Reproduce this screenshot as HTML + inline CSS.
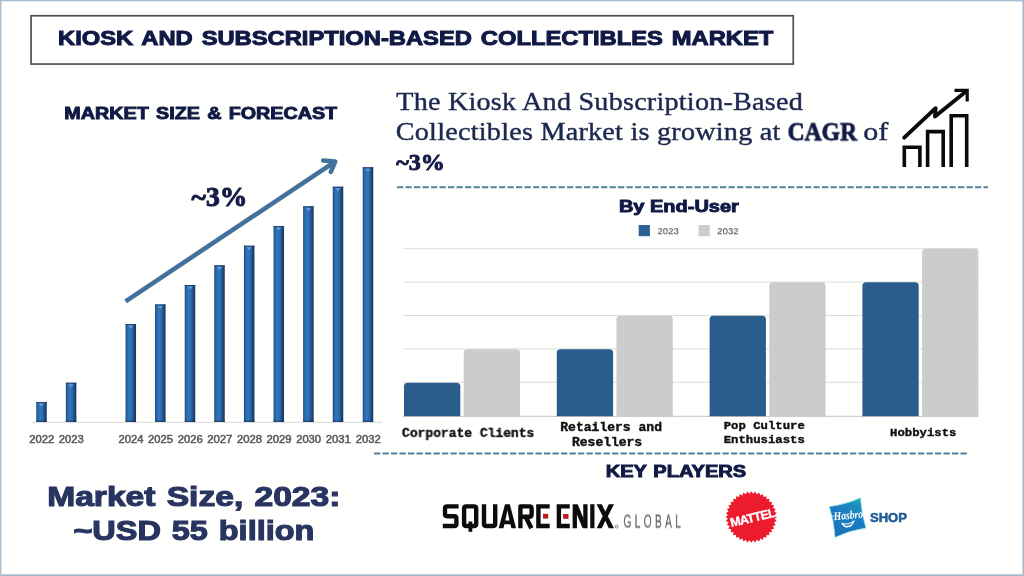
<!DOCTYPE html>
<html><head><meta charset="utf-8"><title>Kiosk and Subscription-Based Collectibles Market</title>
<style>
html,body{margin:0;padding:0;}
body{width:1024px;height:576px;overflow:hidden;background:#fffffe;font-family:"Liberation Sans",sans-serif;position:relative;}
.t{position:absolute;white-space:pre;transform-origin:0 0;line-height:1;will-change:transform;}
.abs{position:absolute;}
.hv{font-family:"Liberation Sans",sans-serif;font-weight:bold;color:#101a45;-webkit-text-stroke:0.7px #101a45;}
.sf{font-family:"Liberation Serif",serif;color:#1c2a52;}
.mono{font-family:"Liberation Mono",monospace;font-weight:bold;color:#111;}
.yr{font-family:"Liberation Sans",sans-serif;font-size:10.5px;color:#595959;-webkit-text-stroke:0.4px #595959;}
</style></head><body>
<svg class="abs" style="left:0;top:0" width="1024" height="576" viewBox="0 0 1024 576"><rect x="0" y="0" width="1024" height="1.9" fill="#d6e5f1"/><rect x="0" y="0" width="1.9" height="576" fill="#d6e5f1"/><rect x="1022" y="0" width="2" height="576" fill="#d6e5f1"/><rect x="0" y="573.8" width="1024" height="2.2" fill="#d6e5f1"/><rect x="0" y="0" width="1024" height="0.85" fill="#a6bac9"/><rect x="0" y="0" width="0.95" height="576" fill="#a6bac9"/><rect x="1022.7" y="0" width="1.3" height="576" fill="#a6bac9"/><rect x="0" y="574.5" width="1024" height="1.5" fill="#a6bac9"/></svg>
<svg class="abs" style="left:0;top:0" width="1024" height="80" viewBox="0 0 1024 80"><rect x="31.05" y="15.75" width="762.2" height="48.3" fill="#ffffff" stroke="#4e5058" stroke-width="1.7"/></svg>
<div class="t" style="left:58px;top:28px;font-family:'Liberation Sans',sans-serif;font-weight:bold;font-size:20.0px;color:#101a45;-webkit-text-stroke:1.0px #101a45;word-spacing:2.0px;transform:translate(0.05px,0.45px) scaleX(1.1864);">KIOSK AND SUBSCRIPTION-BASED COLLECTIBLES MARKET</div>
<div class="t" style="left:64px;top:104px;font-family:'Liberation Sans',sans-serif;font-weight:bold;font-size:16.1px;color:#101a45;-webkit-text-stroke:0.9px #101a45;word-spacing:1.5px;transform:translate(0.37px,0.97px) scaleX(1.2250);">MARKET SIZE &amp; FORECAST</div>
<svg class="abs" style="left:0;top:0" width="1024" height="576" viewBox="0 0 1024 576">
<defs>
<linearGradient id="bg" x1="0" x2="1" y1="0" y2="0">
<stop offset="0" stop-color="#1a3d6b"/><stop offset="0.13" stop-color="#2a65a6"/><stop offset="0.4" stop-color="#3277bd"/><stop offset="0.62" stop-color="#2a67a8"/><stop offset="0.84" stop-color="#1d4779"/><stop offset="1" stop-color="#15325a"/>
</linearGradient>
<linearGradient id="bb" x1="0" x2="0" y1="0" y2="1"><stop offset="0" stop-color="#0f2748" stop-opacity="0"/><stop offset="1" stop-color="#0f2748" stop-opacity="0.55"/></linearGradient>
</defs>
<line x1="32" y1="422.3" x2="382" y2="422.3" stroke="#d9d9d9" stroke-width="1"/>
<rect x="36.25" y="402" width="10.5" height="20.0" fill="url(#bg)"/>
<rect x="36.25" y="402" width="10.5" height="1" fill="#1a3a66" opacity="0.75"/>
<rect x="36.25" y="419.4" width="10.5" height="2.6" fill="url(#bb)"/>
<path d="M38.9 403.6 L44.1 403.6 L41.5 406.6 Z" fill="#6fa0d8" opacity="0.9"/>
<rect x="65.85" y="382.7" width="10.5" height="39.3" fill="url(#bg)"/>
<rect x="65.85" y="382.7" width="10.5" height="1" fill="#1a3a66" opacity="0.75"/>
<rect x="65.85" y="419.4" width="10.5" height="2.6" fill="url(#bb)"/>
<path d="M68.5 384.3 L73.7 384.3 L71.1 387.3 Z" fill="#6fa0d8" opacity="0.9"/>
<rect x="125.55" y="324" width="10.5" height="98.0" fill="url(#bg)"/>
<rect x="125.55" y="324" width="10.5" height="1" fill="#1a3a66" opacity="0.75"/>
<rect x="125.55" y="419.4" width="10.5" height="2.6" fill="url(#bb)"/>
<path d="M128.2 325.6 L133.4 325.6 L130.8 328.6 Z" fill="#6fa0d8" opacity="0.9"/>
<rect x="155.05" y="304.4" width="10.5" height="117.6" fill="url(#bg)"/>
<rect x="155.05" y="304.4" width="10.5" height="1" fill="#1a3a66" opacity="0.75"/>
<rect x="155.05" y="419.4" width="10.5" height="2.6" fill="url(#bb)"/>
<path d="M157.7 306.0 L162.9 306.0 L160.3 309.0 Z" fill="#6fa0d8" opacity="0.9"/>
<rect x="184.75" y="285" width="10.5" height="137.0" fill="url(#bg)"/>
<rect x="184.75" y="285" width="10.5" height="1" fill="#1a3a66" opacity="0.75"/>
<rect x="184.75" y="419.4" width="10.5" height="2.6" fill="url(#bb)"/>
<path d="M187.4 286.6 L192.6 286.6 L190.0 289.6 Z" fill="#6fa0d8" opacity="0.9"/>
<rect x="214.25" y="265.3" width="10.5" height="156.7" fill="url(#bg)"/>
<rect x="214.25" y="265.3" width="10.5" height="1" fill="#1a3a66" opacity="0.75"/>
<rect x="214.25" y="419.4" width="10.5" height="2.6" fill="url(#bb)"/>
<path d="M216.9 266.90000000000003 L222.1 266.90000000000003 L219.5 269.90000000000003 Z" fill="#6fa0d8" opacity="0.9"/>
<rect x="243.95" y="245.7" width="10.5" height="176.3" fill="url(#bg)"/>
<rect x="243.95" y="245.7" width="10.5" height="1" fill="#1a3a66" opacity="0.75"/>
<rect x="243.95" y="419.4" width="10.5" height="2.6" fill="url(#bb)"/>
<path d="M246.6 247.29999999999998 L251.8 247.29999999999998 L249.2 250.29999999999998 Z" fill="#6fa0d8" opacity="0.9"/>
<rect x="273.55" y="226" width="10.5" height="196.0" fill="url(#bg)"/>
<rect x="273.55" y="226" width="10.5" height="1" fill="#1a3a66" opacity="0.75"/>
<rect x="273.55" y="419.4" width="10.5" height="2.6" fill="url(#bb)"/>
<path d="M276.2 227.6 L281.4 227.6 L278.8 230.6 Z" fill="#6fa0d8" opacity="0.9"/>
<rect x="303.15" y="206.3" width="10.5" height="215.7" fill="url(#bg)"/>
<rect x="303.15" y="206.3" width="10.5" height="1" fill="#1a3a66" opacity="0.75"/>
<rect x="303.15" y="419.4" width="10.5" height="2.6" fill="url(#bb)"/>
<path d="M305.8 207.9 L311.0 207.9 L308.4 210.9 Z" fill="#6fa0d8" opacity="0.9"/>
<rect x="332.75" y="186.7" width="10.5" height="235.3" fill="url(#bg)"/>
<rect x="332.75" y="186.7" width="10.5" height="1" fill="#1a3a66" opacity="0.75"/>
<rect x="332.75" y="419.4" width="10.5" height="2.6" fill="url(#bb)"/>
<path d="M335.4 188.29999999999998 L340.6 188.29999999999998 L338.0 191.29999999999998 Z" fill="#6fa0d8" opacity="0.9"/>
<rect x="362.75" y="167.2" width="10.5" height="254.8" fill="url(#bg)"/>
<rect x="362.75" y="167.2" width="10.5" height="1" fill="#1a3a66" opacity="0.75"/>
<rect x="362.75" y="419.4" width="10.5" height="2.6" fill="url(#bb)"/>
<path d="M365.4 168.79999999999998 L370.6 168.79999999999998 L368.0 171.79999999999998 Z" fill="#6fa0d8" opacity="0.9"/>
<g fill="none" stroke="#41719c" stroke-width="4.6" stroke-linecap="round" stroke-linejoin="round">
<path d="M125.6 301.3 L333.6 162.6" stroke-linecap="butt"/>
<path d="M323.2 160.5 L335.2 161.5 L330.8 171.8"/>
</g>
<line x1="403" y1="248.7" x2="978.5" y2="248.7" stroke="#dcdcdc" stroke-width="1"/>
<line x1="403" y1="282.1" x2="978.5" y2="282.1" stroke="#dcdcdc" stroke-width="1"/>
<line x1="403" y1="315.5" x2="978.5" y2="315.5" stroke="#dcdcdc" stroke-width="1"/>
<line x1="403" y1="348.9" x2="978.5" y2="348.9" stroke="#dcdcdc" stroke-width="1"/>
<line x1="403" y1="382.3" x2="978.5" y2="382.3" stroke="#dcdcdc" stroke-width="1"/>
<line x1="403" y1="416.4" x2="978.5" y2="416.4" stroke="#cfcfcf" stroke-width="1.2"/>
<path d="M404.0 416.2 L404.0 386.3 Q404.0 382.7 407.6 382.7 L456.7 382.7 Q460.3 382.7 460.3 386.3 L460.3 416.2 Z" fill="#2a5d8c"/>
<path d="M463.7 416.2 L463.7 352.8 Q463.7 349.2 467.3 349.2 L516.4 349.2 Q520.0 349.2 520.0 352.8 L520.0 416.2 Z" fill="#cccccc"/>
<path d="M556.8 416.2 L556.8 352.8 Q556.8 349.2 560.4 349.2 L609.5 349.2 Q613.1 349.2 613.1 352.8 L613.1 416.2 Z" fill="#2a5d8c"/>
<path d="M616.5 416.2 L616.5 319.3 Q616.5 315.7 620.1 315.7 L669.2 315.7 Q672.8 315.7 672.8 319.3 L672.8 416.2 Z" fill="#cccccc"/>
<path d="M709.6 416.2 L709.6 319.3 Q709.6 315.7 713.2 315.7 L762.3 315.7 Q765.9 315.7 765.9 319.3 L765.9 416.2 Z" fill="#2a5d8c"/>
<path d="M769.3 416.2 L769.3 285.8 Q769.3 282.2 772.9 282.2 L822.0 282.2 Q825.6 282.2 825.6 285.8 L825.6 416.2 Z" fill="#cccccc"/>
<path d="M862.4 416.2 L862.4 285.8 Q862.4 282.2 866.0 282.2 L915.1 282.2 Q918.7 282.2 918.7 285.8 L918.7 416.2 Z" fill="#2a5d8c"/>
<path d="M922.1 416.2 L922.1 252.3 Q922.1 248.7 925.7 248.7 L974.8 248.7 Q978.4 248.7 978.4 252.3 L978.4 416.2 Z" fill="#cccccc"/>
<rect x="638.7" y="225" width="11.2" height="11.2" fill="#2a6094"/>
<rect x="698.5" y="225" width="11.2" height="11.2" fill="#cccccc"/>
<line x1="397" y1="187.2" x2="988" y2="187.2" stroke="#54809b" stroke-width="2.1" stroke-dasharray="6.3 2.2"/>
<line x1="374" y1="453.5" x2="967" y2="453.5" stroke="#54809b" stroke-width="2.1" stroke-dasharray="6.3 2.2"/>
<g fill="none" stroke="#0a0a0a" stroke-width="3.6" stroke-linejoin="miter" stroke-linecap="butt">
<path d="M904.3 166.9 L904.3 147.2 L919.9 147.2 L919.9 166.9"/>
<path d="M927.6 166.9 L927.6 131.6 L943.2 131.6 L943.2 166.9"/>
<path d="M951.2 166.9 L951.2 115.8 L966.7 115.8 L966.7 166.9"/>
</g>
<g fill="none" stroke="#0a0a0a" stroke-width="3.9" stroke-linejoin="round" stroke-linecap="round">
<path d="M904.2 137.6 L935.6 108.2 L935.0 116.6 L965.6 91.8"/>
<path d="M954.5 90.3 L967.2 90.3 L967.2 101.6" stroke-linecap="butt" stroke-linejoin="miter" stroke-width="3.2"/>
</g>
</svg>
<div class="t" style="left:191px;top:184px;font-family:'Liberation Serif',serif;font-weight:bold;font-size:27.2px;color:#141a47;-webkit-text-stroke:1.0px #141a47;transform:translate(0.60px,0.12px) scaleX(1.0150);">~3%</div>
<div class="t" style="left:29px;top:434px;font-family:'Liberation Sans',sans-serif;font-size:10.3px;color:#595959;-webkit-text-stroke:0.5px #595959;transform:translate(0.23px,0.77px) scaleX(1.0958);">2022</div>
<div class="t" style="left:58px;top:434px;font-family:'Liberation Sans',sans-serif;font-size:10.3px;color:#595959;-webkit-text-stroke:0.5px #595959;transform:translate(0.83px,0.77px) scaleX(1.0933);">2023</div>
<div class="t" style="left:118px;top:434px;font-family:'Liberation Sans',sans-serif;font-size:10.3px;color:#595959;-webkit-text-stroke:0.5px #595959;transform:translate(0.53px,0.77px) scaleX(1.0861);">2024</div>
<div class="t" style="left:148px;top:434px;font-family:'Liberation Sans',sans-serif;font-size:10.3px;color:#595959;-webkit-text-stroke:0.5px #595959;transform:translate(0.03px,0.77px) scaleX(1.0933);">2025</div>
<div class="t" style="left:177px;top:434px;font-family:'Liberation Sans',sans-serif;font-size:10.3px;color:#595959;-webkit-text-stroke:0.5px #595959;transform:translate(0.73px,0.77px) scaleX(1.0933);">2026</div>
<div class="t" style="left:207px;top:434px;font-family:'Liberation Sans',sans-serif;font-size:10.3px;color:#595959;-webkit-text-stroke:0.5px #595959;transform:translate(0.23px,0.77px) scaleX(1.0958);">2027</div>
<div class="t" style="left:236px;top:434px;font-family:'Liberation Sans',sans-serif;font-size:10.3px;color:#595959;-webkit-text-stroke:0.5px #595959;transform:translate(0.93px,0.77px) scaleX(1.0933);">2028</div>
<div class="t" style="left:266px;top:434px;font-family:'Liberation Sans',sans-serif;font-size:10.3px;color:#595959;-webkit-text-stroke:0.5px #595959;transform:translate(0.53px,0.77px) scaleX(1.0958);">2029</div>
<div class="t" style="left:296px;top:434px;font-family:'Liberation Sans',sans-serif;font-size:10.3px;color:#595959;-webkit-text-stroke:0.5px #595959;transform:translate(0.13px,0.77px) scaleX(1.0909);">2030</div>
<div class="t" style="left:325px;top:434px;font-family:'Liberation Sans',sans-serif;font-size:10.3px;color:#595959;-webkit-text-stroke:0.5px #595959;transform:translate(0.73px,0.77px) scaleX(1.0958);">2031</div>
<div class="t" style="left:355px;top:434px;font-family:'Liberation Sans',sans-serif;font-size:10.3px;color:#595959;-webkit-text-stroke:0.5px #595959;transform:translate(0.73px,0.77px) scaleX(1.0958);">2032</div>
<div class="t" style="left:47px;top:484px;font-family:'Liberation Sans',sans-serif;font-weight:bold;font-size:26.8px;color:#283561;-webkit-text-stroke:1.1px #283561;word-spacing:1.5px;transform:translate(0.20px,0.35px) scaleX(1.2536);">Market Size, 2023:</div>
<div class="t" style="left:73px;top:517px;font-family:'Liberation Sans',sans-serif;font-weight:bold;font-size:26.8px;color:#283561;-webkit-text-stroke:1.1px #283561;word-spacing:1.5px;transform:translate(0.39px,0.90px) scaleX(1.2122);">~USD 55 billion</div>
<div class="t" style="left:396px;top:90px;font-family:'Liberation Serif',serif;font-size:24.6px;color:#1c2850;-webkit-text-stroke:0.4px #1c2850;letter-spacing:0.2px;transform:translate(0.27px,0.10px) scaleX(1.1443);">The Kiosk And Subscription-Based</div>
<div class="t" style="left:395px;top:120px;font-family:'Liberation Serif',serif;font-size:24.6px;color:#1c2850;-webkit-text-stroke:0.4px #1c2850;letter-spacing:0.2px;transform:translate(0.78px,0.30px) scaleX(1.1458);">Collectibles Market is growing at</div>
<div class="t" style="left:787px;top:120px;font-family:'Liberation Serif',serif;font-weight:bold;font-size:24.6px;color:#141a47;-webkit-text-stroke:0.8px #141a47;transform:translate(0.53px,0.30px) scaleX(0.9592);">CAGR</div>
<div class="t" style="left:863px;top:120px;font-family:'Liberation Serif',serif;font-size:24.6px;color:#1c2850;-webkit-text-stroke:0.4px #1c2850;transform:translate(0.15px,0.30px) scaleX(1.2200);">of</div>
<div class="t" style="left:396px;top:152px;font-family:'Liberation Serif',serif;font-weight:bold;font-size:22.6px;color:#141a47;-webkit-text-stroke:0.9px #141a47;transform:translate(0.22px,0.47px) scaleX(1.0677);">~3%</div>
<div class="t" style="left:618px;top:199px;font-family:'Liberation Sans',sans-serif;font-weight:bold;font-size:16.0px;color:#101a45;-webkit-text-stroke:0.9px #101a45;transform:translate(0.95px,0.30px) scaleX(1.2483);">By End-User</div>
<div class="t" style="left:657px;top:226px;font-family:'Liberation Sans',sans-serif;font-size:9.9px;color:#333333;transform:translate(0.46px,0.20px) scaleX(0.9693);">2023</div>
<div class="t" style="left:717px;top:226px;font-family:'Liberation Sans',sans-serif;font-size:9.9px;color:#333333;transform:translate(0.06px,0.20px) scaleX(0.9810);">2032</div>
<div class="t" style="left:402px;top:426px;font-family:'Liberation Mono',monospace;font-weight:bold;font-size:13.2px;color:#111111;-webkit-text-stroke:0.4px #111111;transform:translate(0.00px,0.90px) scaleX(0.9836);">Corporate Clients</div>
<div class="t" style="left:560px;top:422px;font-family:'Liberation Mono',monospace;font-weight:bold;font-size:11.9px;color:#111111;-webkit-text-stroke:0.4px #111111;transform:translate(0.30px,0.98px) scaleX(1.0960);">Retailers and</div>
<div class="t" style="left:571px;top:438px;font-family:'Liberation Mono',monospace;font-weight:bold;font-size:11.9px;color:#111111;-webkit-text-stroke:0.4px #111111;transform:translate(1.00px,0.07px) scaleX(1.0925);">Resellers</div>
<div class="t" style="left:723px;top:420px;font-family:'Liberation Mono',monospace;font-weight:bold;font-size:11.6px;color:#111111;-webkit-text-stroke:0.4px #111111;transform:translate(0.72px,0.00px) scaleX(1.0588);">Pop Culture</div>
<div class="t" style="left:723px;top:434px;font-family:'Liberation Mono',monospace;font-weight:bold;font-size:11.6px;color:#111111;-webkit-text-stroke:0.4px #111111;transform:translate(0.72px,0.10px) scaleX(1.0602);">Enthusiasts</div>
<div class="t" style="left:890px;top:427px;font-family:'Liberation Mono',monospace;font-weight:bold;font-size:11.6px;color:#111111;-webkit-text-stroke:0.4px #111111;transform:translate(0.02px,0.30px) scaleX(1.0608);">Hobbyists</div>
<div class="t" style="left:605px;top:462px;font-family:'Liberation Sans',sans-serif;font-weight:bold;font-size:16.1px;color:#101a45;-webkit-text-stroke:0.9px #101a45;word-spacing:1.0px;transform:translate(0.65px,0.73px) scaleX(1.2462);">KEY PLAYERS</div>
<svg class="abs" style="left:0;top:0" width="1024" height="576" viewBox="0 0 1024 576">
<g fill="none" stroke="#0c0c0c" stroke-width="4.4" stroke-linejoin="round" stroke-linecap="butt">
<path d="M458.6 506.4 H447.2 Q445 506.4 445 508.6 V514 Q445 516.2 447.2 516.2 H454.2 Q456.4 516.2 456.4 518.4 V523.8 Q456.4 526 454.2 526 H442.8"/>
<path d="M466.3 506.4 H474 Q476.2 506.4 476.2 508.6 V523.8 Q476.2 526 474 526 H466.3 Q464.1 526 464.1 523.8 V508.6 Q464.1 506.4 466.3 506.4 Z"/>
<path d="M470.4 521.5 V531.8" stroke-width="3.8"/>
<path d="M484 504.2 V523.8 Q484 526 486.2 526 H493 Q495.2 526 495.2 523.8 V504.2"/>
<path d="M520.4 528.2 V506.4 H529.4 Q531.6 506.4 531.6 508.6 V514.6 Q531.6 516.8 529.4 516.8 H520.4"/>
<path d="M525.6 516.8 L531.4 528.2" stroke-width="4.6" stroke-linejoin="miter"/>
<path d="M549.7 506.4 H538.4 V526 H549.7" stroke-linejoin="miter"/>
<path d="M569.8 506.4 H558.9 V526 H569.8" stroke-linejoin="miter"/>
<path d="M574.8 528.2 V504.2 M585.4 528.2 V504.2" stroke-width="4.3"/>
<path d="M575.6 505.2 L584.6 527.2" stroke-width="4.6"/>
<path d="M592.35 504.2 V528.2" stroke-width="4.2"/>
</g>
<path fill="#0c0c0c" fill-rule="evenodd" d="M498.7 528.2 L505 504.2 L509.8 504.2 L516.1 528.2 L511.4 528.2 L510.4 524.2 L504.4 524.2 L503.4 528.2 Z M507.4 510.2 L509.5 520.4 L505.3 520.4 Z"/>
<path fill="#0c0c0c" d="M596.6 504.2 L601.8 504.2 L605.3 511.6 L608.8 504.2 L614 504.2 L607.9 516.2 L614 528.2 L608.8 528.2 L605.3 520.8 L601.8 528.2 L596.6 528.2 L602.7 516.2 Z"/>
<rect x="543" y="513.8" width="5.2" height="4.8" fill="#ba1a22"/>
<rect x="563.1" y="514" width="5.4" height="4.8" fill="#ba1a22"/>
<circle cx="616.6" cy="526.6" r="1.4" fill="none" stroke="#333" stroke-width="0.6"/>
</svg>
<div class="t" style="left:623px;top:512px;font-family:'Liberation Sans',sans-serif;font-size:18px;color:#68696c;-webkit-text-stroke:0.35px #68696c;letter-spacing:6px;transform:translate(0.49px,0.57px) scaleX(0.5617);">GLOBAL</div>
<svg class="abs" style="left:0;top:0" width="1024" height="576" viewBox="0 0 1024 576">
<defs><linearGradient id="hg" x1="0.8" y1="0" x2="0.3" y2="1"><stop offset="0" stop-color="#1aa8a6"/><stop offset="0.22" stop-color="#1b8cc2"/><stop offset="0.5" stop-color="#1b7bc0"/><stop offset="1" stop-color="#1c70ba"/></linearGradient></defs>
<polygon points="777.00,517.00 774.63,518.84 776.68,521.02 774.05,522.46 775.74,524.94 772.92,525.95 774.20,528.67 771.25,529.23 772.09,532.11 769.09,532.20 769.47,535.17 766.50,534.79 766.41,537.79 763.53,536.95 762.97,539.90 760.25,538.62 759.24,541.44 756.76,539.75 755.32,542.38 753.14,540.33 751.30,542.70 749.46,540.33 747.28,542.38 745.84,539.75 743.36,541.44 742.35,538.62 739.63,539.90 739.07,536.95 736.19,537.79 736.10,534.79 733.13,535.17 733.51,532.20 730.51,532.11 731.35,529.23 728.40,528.67 729.68,525.95 726.86,524.94 728.55,522.46 725.92,521.02 727.97,518.84 725.60,517.00 727.97,515.16 725.92,512.98 728.55,511.54 726.86,509.06 729.68,508.05 728.40,505.33 731.35,504.77 730.51,501.89 733.51,501.80 733.13,498.83 736.10,499.21 736.19,496.21 739.07,497.05 739.63,494.10 742.35,495.38 743.36,492.56 745.84,494.25 747.28,491.62 749.46,493.67 751.30,491.30 753.14,493.67 755.32,491.62 756.76,494.25 759.24,492.56 760.25,495.38 762.97,494.10 763.53,497.05 766.41,496.21 766.50,499.21 769.47,498.83 769.09,501.80 772.09,501.89 771.25,504.77 774.20,505.33 772.92,508.05 775.74,509.06 774.05,511.54 776.68,512.98 774.63,515.16" fill="#ec1b2e"/>
<text x="752.6" y="522.0" transform="rotate(-13.2 752.6 518)" text-anchor="middle" font-family="'Liberation Sans',sans-serif" font-weight="bold" font-size="12.6" letter-spacing="-0.75" fill="#fff" stroke="#fff" stroke-width="0.3">MATTEL</text>
<path d="M829.3 506.6 Q846 504.5 860.5 497.8 Q861.5 514 865.9 528.1 Q849.5 530.5 835.1 537.4 Q834 521 829.3 506.6 Z" fill="url(#hg)" stroke="#8fe0ea" stroke-width="0.8" stroke-linejoin="round"/>
<text x="848.4" y="519.0" transform="rotate(-5 848.4 516)" text-anchor="middle" font-family="'Liberation Serif',serif" font-style="italic" font-weight="bold" font-size="11.6" textLength="29.5" lengthAdjust="spacingAndGlyphs" fill="#fff">Hasbro</text>
<path d="M829.6 516.4 L836.5 515.6" stroke="#fff" stroke-width="0.7" fill="none"/>
<path d="M841.2 522.6 Q848.5 525.2 854.8 519.8 Q852.5 528.6 845.8 527.4 Q842.2 526.4 841.2 522.6 Z" fill="#fff"/>
<path d="M843.4 523.9 Q848.3 525.4 852.6 522.6 Q850.6 526.0 846.6 525.9 Q844.4 525.5 843.4 523.9 Z" fill="#1a80be"/>
</svg>
<div class="t" style="left:869px;top:511px;font-family:'Liberation Sans',sans-serif;font-weight:bold;font-size:12.4px;color:#1d5a96;-webkit-text-stroke:0.5px #1d5a96;transform:translate(0.99px,0.80px) scaleX(1.0531);">SHOP</div>
</body></html>
